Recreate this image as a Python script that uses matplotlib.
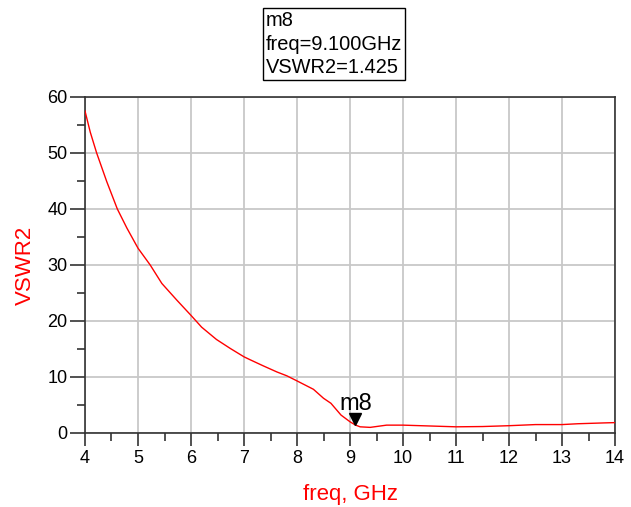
import matplotlib
matplotlib.use("Agg")
import matplotlib.pyplot as plt
from matplotlib.ticker import MultipleLocator
from matplotlib.transforms import offset_copy

plt.rcParams['font.family'] = ['Liberation Sans', 'DejaVu Sans']

# Simulated VSWR at port 2 versus frequency
freq_ghz = [4.0, 4.1, 4.22, 4.41, 4.61, 4.79, 5.0, 5.23, 5.45, 5.73, 6.0, 6.2,
            6.48, 6.74, 7.0, 7.11, 7.36, 7.62, 7.81, 8.0, 8.31, 8.5, 8.64, 8.83,
            9.0, 9.1, 9.19, 9.38, 9.69, 10.0, 10.5, 11.0, 11.5, 12.0, 12.5,
            13.0, 13.3, 13.8, 14.0]
vswr2 = [57.5, 53.7, 50.0, 44.9, 40.0, 36.6, 33.0, 30.0, 26.7, 23.75, 21.0, 18.9,
         16.7, 15.1, 13.6, 13.1, 12.0, 10.9, 10.2, 9.3, 7.8, 6.2, 5.3, 3.2,
         2.0, 1.425, 1.1, 1.0, 1.4, 1.4, 1.25, 1.1, 1.15, 1.3, 1.5,
         1.5, 1.65, 1.8, 1.85]

marker_name = "m8"
marker_freq = 9.1
marker_vswr = 1.425

x_ticks = [4, 5, 6, 7, 8, 9, 10, 11, 12, 13, 14]
y_ticks = [0, 10, 20, 30, 40, 50, 60]

fig = plt.figure(figsize=(6.31, 5.07), dpi=100)
ax = fig.add_axes([0.1347, 0.146, 0.840, 0.6627])

ax.plot(freq_ghz, vswr2, color="#ff0000", lw=1.0, zorder=3)

ax.set_xlim(4, 14)
ax.set_ylim(0, 60)
ax.set_xticks(x_ticks)
ax.set_yticks(y_ticks)
ax.xaxis.set_minor_locator(MultipleLocator(0.5))
ax.yaxis.set_minor_locator(MultipleLocator(5))

ax.grid(True, which="major", color="#c8c8c8", lw=1.3, zorder=0)
for s in ax.spines.values():
    s.set_color("#333333")
    s.set_linewidth(1.2)

ax.tick_params(axis="x", which="major", direction="out", length=9.5, width=1.2,
               color="#333333", labelsize=13, pad=3)
ax.tick_params(axis="x", which="minor", direction="out", length=5.5, width=1.2,
               color="#333333")
ax.tick_params(axis="y", which="major", direction="out", length=10.5, width=1.2,
               color="#333333", labelsize=13, pad=2)
ax.tick_params(axis="y", which="minor", direction="out", length=5.5, width=1.2,
               color="#333333")
ax.tick_params(top=False, right=False)

ax.set_xlabel("freq, GHz", color="#ff0000", fontsize=16, labelpad=12)
ax.set_ylabel("VSWR2", color="#ff0000", fontsize=16, labelpad=8)

# Marker: downward triangle with its tip on the trace point
tri_tr = offset_copy(ax.transData, fig=fig, x=0, y=4.5, units="points")
ax.plot([marker_freq], [marker_vswr], marker="v", color="black", markersize=9,
        linestyle="none", zorder=4, transform=tri_tr)
ax.text(marker_freq, marker_vswr, marker_name, fontsize=17, ha="center",
        va="baseline", zorder=5,
        transform=offset_copy(ax.transData, fig=fig, x=0, y=11, units="points"))

# Marker readout box
readout = f"{marker_name}\nfreq={marker_freq:.3f}GHz\nVSWR2={marker_vswr:.3f}"
fig.text(0.421, 0.978, readout, fontsize=14.4, ha="left", va="top",
         linespacing=1.3,
         bbox=dict(boxstyle="square,pad=0.15", fc="white", ec="black", lw=1.0))

fig.savefig("out.png", dpi=100)
